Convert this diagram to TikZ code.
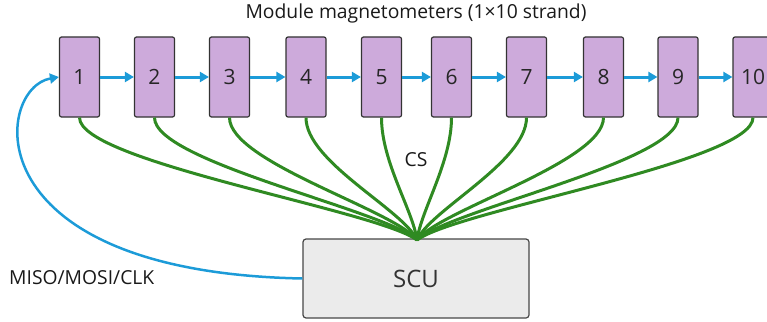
\documentclass[tikz,border=0pt]{standalone}
\usepackage{fontspec}
\setmainfont{Open Sans}
\usetikzlibrary{arrows.meta,calc}
\definecolor{modfill}{HTML}{CDAADB}
\definecolor{modline}{HTML}{333333}
\definecolor{busblue}{HTML}{1C9BD8}
\definecolor{csgreen}{HTML}{2F8A22}
\definecolor{scufill}{HTML}{EBEBEB}
\begin{document}
\begin{tikzpicture}[x=1pt,y=-1pt,
  module/.style={draw=modline, fill=modfill, line width=1.2pt, rounded corners=2pt,
    minimum width=40pt, minimum height=80pt, inner sep=0pt,
    font=\fontsize{21}{21}\selectfont, text=black!85},
  scubox/.style={draw=modline!90, fill=scufill, line width=1.2pt, rounded corners=3pt,
    minimum width=226pt, minimum height=79pt, inner sep=0pt,
    font=\fontsize{24}{24}\selectfont, text=black!80},
  chain/.style={draw=busblue, line width=3pt, -{Triangle[length=9pt,width=10pt]}},
  spibus/.style={draw=busblue, line width=2.5pt, -{Triangle[length=9pt,width=10pt]}},
  csline/.style={draw=csgreen, line width=3pt},
  lbl/.style={font=\fontsize{19.3}{19.3}\selectfont, text=black!90, inner sep=0pt}
]
\useasboundingbox (0,0) rectangle (767,321);

% title
\node[lbl] (title) at (416,13) {Module magnetometers (1×10 strand)};

% the strand of modules
\foreach \i/\cx in {1/79.5, 2/154.5, 3/229.5, 4/306, 5/381.5, 6/451.5, 7/526.5, 8/603.5, 9/678, 10/753}
  \node[module] (m\i) at (\cx,77) {\i};

% sensor control unit
\node[scubox] (scu) at (416,278.5) {SCU};
\coordinate (fan) at (417,240);

% chip-select lines, one per module, fanning into the SCU
\foreach \i in {1,...,10}
  \draw[csline] let \p1=(m\i.south) in
    (m\i.south) .. controls (\x1,162) and ({417+(\x1-417)*0.12},210) .. (fan);

% daisy-chained data path
\foreach \i [evaluate=\i as \j using int(\i+1)] in {1,...,9}
  \draw[chain] (m\i.east) -- (m\j.west);

% SPI bus from the SCU back to the first module
\draw[spibus] (scu.west) .. controls (-30,272) and (-5,88) .. (m1.west);

% labels
\node[lbl] (cs) at (416,160) {CS};
\node[lbl, anchor=west] (spi) at (9,278) {MISO/MOSI/CLK};
\end{tikzpicture}
\end{document}
